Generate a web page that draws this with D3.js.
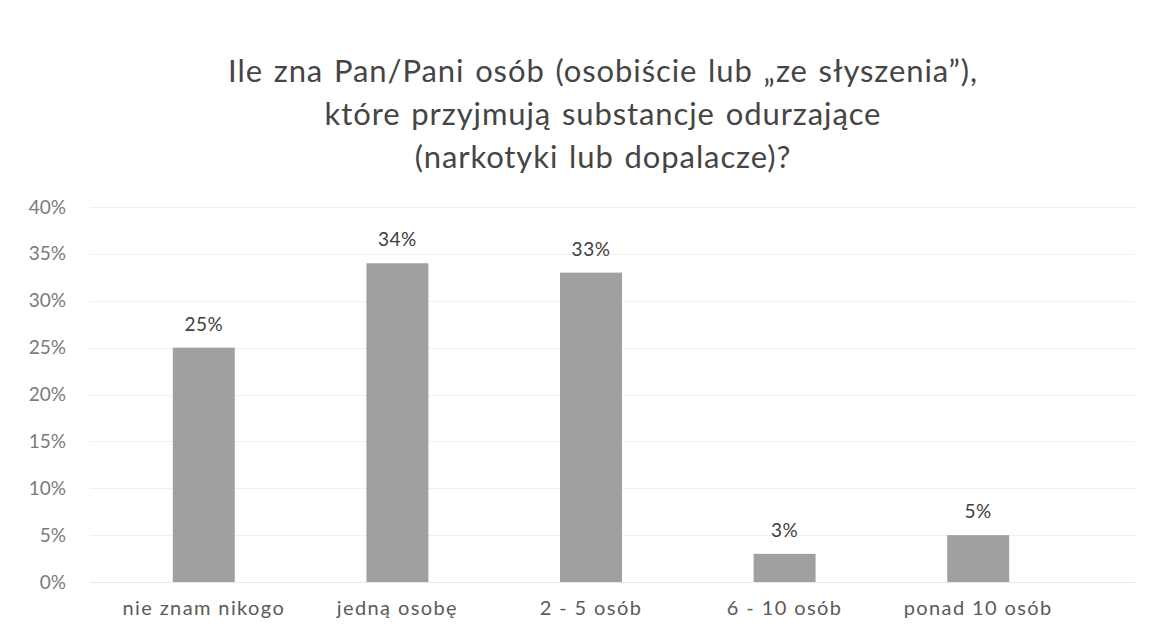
<!DOCTYPE html>
<html>
<head>
<meta charset="utf-8">
<script src="https://cdn.jsdelivr.net/npm/d3@7"></script>
<style>
  body { margin: 0; background: #fff; }
  svg { display: block; font-family: Lato, "Open Sans", sans-serif; }
</style>
</head>
<body>
<svg id="chart" width="1156" height="643"></svg>
<script>
// data
const categories = ['nie znam nikogo', 'jedną osobę', '2 - 5 osób', '6 - 10 osób', 'ponad 10 osób']
const values = [25, 34, 33, 3, 5]
const yTicks = [0, 5, 10, 15, 20, 25, 30, 35, 40]
const titleLines = [
  'Ile zna Pan/Pani osób (osobiście lub „ze słyszenia”),',
  'które przyjmują substancje odurzające',
  '(narkotyki lub dopalacze)?'
]

const svg = d3.select('#chart')

let x = d3.scaleBand()
  .domain(categories)
  .range([107, 1075])
  .paddingInner(0.68)
  .paddingOuter(0.34)

let y = d3.scaleLinear()
  .domain([0, 40])
  .range([582, 207])

// title
svg.append('g')
  .selectAll('text')
  .data(titleLines)
  .enter()
  .append('text')
  .attr('x', 603)
  .attr('y', (d, i) => 82 + i * 43)
  .attr('text-anchor', 'middle')
  .attr('font-size', 31)
  .attr('letter-spacing', 0.9)
  .attr('word-spacing', 2)
  .attr('fill', '#454545')
  .text(d => d)

// gridlines
svg.append('g')
  .selectAll('line')
  .data(yTicks)
  .enter()
  .append('line')
  .attr('x1', 90)
  .attr('x2', 1135)
  .attr('y1', d => Math.round(y(d)) + 0.5)
  .attr('y2', d => Math.round(y(d)) + 0.5)
  .attr('stroke', d => d === 0 ? '#e8e8e8' : '#f0f0f0')
  .attr('stroke-width', 1)

// y axis
let yAxis = svg.append('g')
  .attr('transform', 'translate(66,0)')
  .call(d3.axisLeft(y).tickValues(yTicks).tickFormat(d => d + '%').tickSize(0).tickPadding(0))
yAxis.select('.domain').remove()
yAxis.selectAll('text')
  .attr('font-family', 'Lato, "Open Sans", sans-serif')
  .attr('font-size', 19)
  .attr('fill', '#7a7a7a')

// x axis labels
let xAxis = svg.append('g')
  .attr('transform', 'translate(0,582)')
  .call(d3.axisBottom(x).tickSize(0).tickPadding(19))
xAxis.select('.domain').remove()
xAxis.selectAll('text')
  .attr('font-family', 'Lato, "Open Sans", sans-serif')
  .attr('font-size', 20)
  .attr('letter-spacing', 1.4)
  .attr('fill', '#5a5a5a')

// bars
svg.append('g')
  .selectAll('rect')
  .data(values)
  .enter()
  .append('rect')
  .attr('x', (d, i) => x(categories[i]))
  .attr('y', d => y(d))
  .attr('width', x.bandwidth())
  .attr('height', d => y(0) - y(d))
  .attr('fill', '#a0a0a0')

// value labels
svg.append('g')
  .selectAll('text')
  .data(values)
  .enter()
  .append('text')
  .attr('x', (d, i) => x(categories[i]) + x.bandwidth() / 2)
  .attr('y', d => y(d) - 17)
  .attr('text-anchor', 'middle')
  .attr('font-size', 19)
  .attr('letter-spacing', 0.5)
  .attr('fill', '#404040')
  .text(d => d + '%')
</script>
</body>
</html>
